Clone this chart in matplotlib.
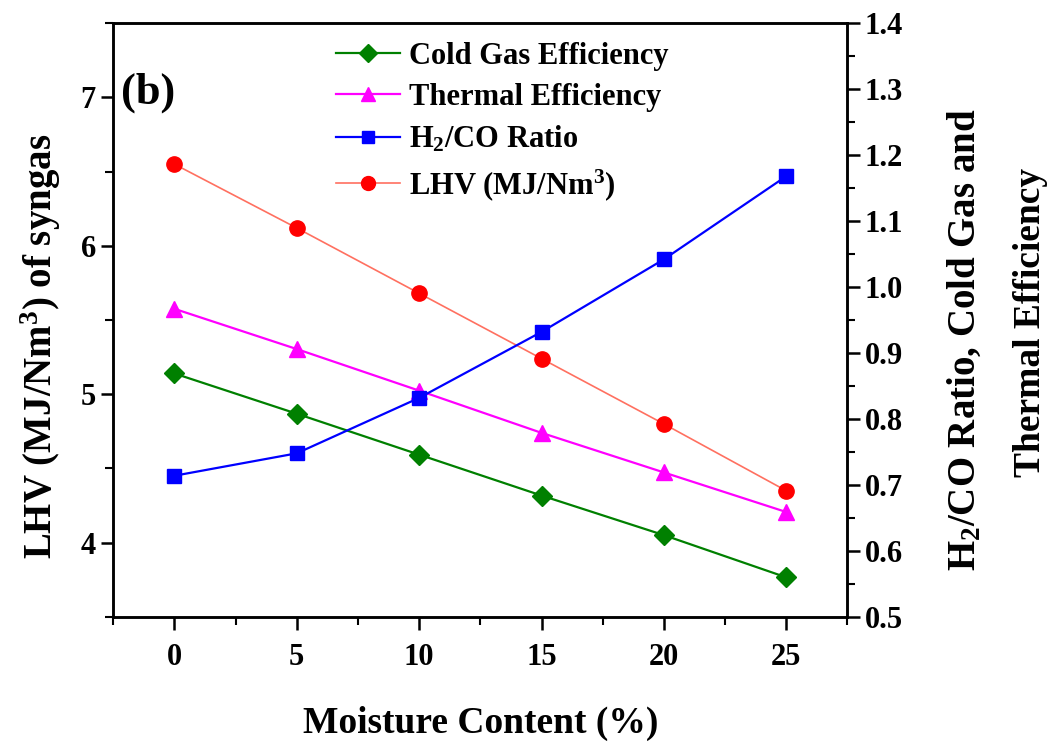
import matplotlib
matplotlib.use('Agg')
import matplotlib.pyplot as plt
from matplotlib.ticker import MultipleLocator
from matplotlib.lines import Line2D

plt.rcParams['font.family'] = 'Liberation Serif'
plt.rcParams['font.weight'] = 'bold'
plt.rcParams['mathtext.fontset'] = 'custom'
plt.rcParams['mathtext.rm'] = 'Liberation Serif:bold'
plt.rcParams['mathtext.it'] = 'Liberation Serif:bold'
plt.rcParams['mathtext.bf'] = 'Liberation Serif:bold'

# data
moisture = [0, 5, 10, 15, 20, 25]
lhv = [6.55, 6.12, 5.68, 5.24, 4.80, 4.35]
cold_gas = [0.869, 0.808, 0.746, 0.684, 0.624, 0.560]
thermal = [0.967, 0.906, 0.843, 0.779, 0.719, 0.659]
h2co = [0.714, 0.748, 0.832, 0.932, 1.042, 1.168]

fig = plt.figure(figsize=(10.58, 7.46), dpi=100)
ax = fig.add_axes([0.107, 0.173, 0.694, 0.796])
ax2 = ax.twinx()

ax.plot(moisture, lhv, '-', color='#ff7060', lw=1.2, marker='o', ms=11,
        markerfacecolor='red', markeredgecolor='red', zorder=3)
ax2.plot(moisture, cold_gas, '-', color='#008000', lw=1.6, marker='D', ms=10,
         markerfacecolor='#008000', markeredgecolor='#008000')
ax2.plot(moisture, thermal, '-', color='magenta', lw=1.6, marker='^', ms=12,
         markerfacecolor='magenta', markeredgecolor='magenta')
ax2.plot(moisture, h2co, '-', color='blue', lw=1.6, marker='s', ms=10,
         markerfacecolor='blue', markeredgecolor='blue')

ax.set_xlim(-2.5, 27.5)
ax.set_ylim(3.5, 7.5)
ax2.set_ylim(0.5, 1.4)

ax.xaxis.set_major_locator(MultipleLocator(5))
ax.xaxis.set_minor_locator(MultipleLocator(2.5))
ax.yaxis.set_major_locator(MultipleLocator(1))
ax.yaxis.set_minor_locator(MultipleLocator(0.5))
ax2.yaxis.set_minor_locator(MultipleLocator(0.05))
ax2.set_yticks([0.5, 0.6, 0.7, 0.8, 0.9, 1.0, 1.1, 1.2, 1.3, 1.4])
ax2.set_yticklabels(['0.5', '0.6', '0.7', '0.8', '0.9', '1.0', '1.1', '1.2', '1.3', '1.4'])

for a in (ax, ax2):
    for s in a.spines.values():
        s.set_linewidth(1.8)
    a.tick_params(which='major', direction='out', length=9, width=1.8, labelsize=22)
    a.tick_params(which='minor', direction='out', length=6, width=1.5)
ax.tick_params(axis='x', pad=10)

ax.set_xlabel('Moisture Content (%)', fontsize=27, fontweight='bold', labelpad=24)
ax.set_ylabel('LHV (MJ/Nm$^3$) of syngas', fontsize=28, fontweight='bold')
ax.yaxis.set_label_coords(-0.069, 0.455)

# right axis title, two lines placed separately
fig.text(965 / 1058, 1 - 340 / 746, 'H$_2$/CO Ratio, Cold Gas and',
         rotation=90, ha='center', va='center', fontsize=28, fontweight='bold')
fig.text(1030 / 1058, 1 - 322 / 746, 'Thermal Efficiency',
         rotation=90, ha='center', va='center', fontsize=27, fontweight='bold')

ax.text(0.01, 0.865, '(b)', transform=ax.transAxes, fontsize=32, fontweight='bold')

handles = [
    Line2D([], [], color='#008000', lw=1.6, marker='D', ms=9),
    Line2D([], [], color='magenta', lw=1.6, marker='^', ms=10),
    Line2D([], [], color='blue', lw=1.6, marker='s', ms=9),
    Line2D([], [], color='#ff7060', lw=1.2, marker='o', ms=10,
           markerfacecolor='red', markeredgecolor='red'),
]
labels = ['Cold Gas Efficiency', 'Thermal Efficiency', 'H$_2$/CO Ratio', 'LHV (MJ/Nm$^3$)']
ax.legend(handles, labels, loc='upper left', bbox_to_anchor=(0.27, 1.01), frameon=False,
          prop={'size': 22, 'weight': 'bold'}, handlelength=2.1, labelspacing=0.4,
          handletextpad=0.3, borderpad=0.3)

plt.savefig('out.png', dpi=100)
plt.close(fig)
